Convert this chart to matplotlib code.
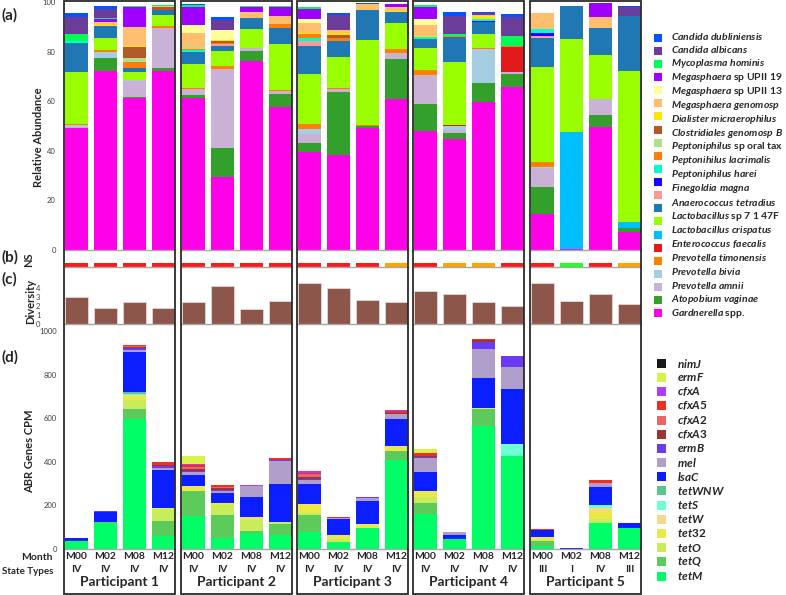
import matplotlib
matplotlib.use("Agg")
import matplotlib.pyplot as plt
from matplotlib.patches import Rectangle
import numpy as np

plt.rcParams["font.family"] = ["Lato", "DejaVu Sans"]
plt.rcParams["mathtext.fontset"] = "custom"
plt.rcParams["mathtext.it"] = "Lato:italic:bold"
plt.rcParams["mathtext.rm"] = "Lato:bold"

# ---- samples -------------------------------------------------------------
participants = ["Participant 1", "Participant 2", "Participant 3",
                "Participant 4", "Participant 5"]
months = ["M00", "M02", "M08", "M12"]
state_types = ["IV", "IV", "IV", "IV",
               "IV", "IV", "IV", "IV",
               "IV", "IV", "IV", "IV",
               "IV", "IV", "IV", "IV",
               "III", "I", "IV", "III"]

# Nugent score category per sample
ns_category = ["BV", "BV", "BV", "BV",
               "BV", "BV", "BV", "BV",
               "BV", "BV", "BV", "Intermediate",
               "BV", "Intermediate", "Intermediate", "BV",
               "BV", "Normal", "BV", "Intermediate"]
ns_colors = {"BV": "#ff1a1a", "Intermediate": "#ffa500", "Normal": "#22ff22"}

diversity = [3.0, 1.78, 2.48, 1.74, 2.48, 4.26, 1.63, 2.56, 4.56, 3.96,
             2.67, 2.41, 3.67, 3.3, 2.41, 2.0, 4.56, 2.56, 3.33, 2.26]

# ---- (a) relative abundance, bottom to top -------------------------------
gardnerella = [49.1, 72.3, 61.2, 72.3, 61.2, 29.6, 76.2, 57.8, 39.6, 38.3,
               49.0, 60.8, 48.0, 44.6, 59.5, 65.6, 14.5, 0.5, 49.5, 7.4]
atopobium = [0, 5.0, 0.4, 1.1, 1.3, 11.7, 4.2, 5.1, 3.4, 25.3,
             1.1, 16.1, 10.9, 2.7, 7.7, 5.4, 10.8, 0, 5.0, 1.3]
p_amnii = [0.5, 0, 6.6, 16.3, 2.3, 31.7, 1.2, 1.3, 3.6, 1.2,
           0, 2.4, 11.7, 1.0, 0, 0.9, 7.7, 0, 6.3, 0]
p_bivia = [1.0, 2.7, 0.3, 0, 0, 0, 0, 0, 2.0, 0,
           0, 0, 0, 1.5, 13.7, 0, 0.3, 0, 0, 0]
p_timonensis = [0.3, 0.5, 0, 0.7, 0.6, 1.2, 0, 0.5, 2.4, 0.4,
                0.5, 1.7, 2.0, 0, 0.4, 0, 2.2, 0, 0, 0]
e_faecalis = [0, 0, 0, 0, 0, 0, 0, 0, 0, 0,
              0, 0, 0, 0.7, 0, 10.1, 0, 0, 0, 0]
l_crispatus = [0, 0, 0, 0, 0, 0, 0, 0, 0, 0,
               0, 0, 0, 0, 0, 0, 0, 46.9, 0, 2.7]
l_sp7147f = [20.8, 5.0, 3.4, 4.4, 9.4, 6.0, 7.4, 18.5, 20.0, 12.8,
             34.0, 10.6, 9.0, 25.5, 5.8, 0, 38.2, 37.5, 17.9, 60.9]
a_tetradius = [11.9, 4.8, 1.3, 2.0, 5.1, 2.2, 4.4, 6.5, 11.4, 6.3,
               12.1, 4.2, 3.4, 9.8, 4.7, 0, 11.8, 13.4, 11.0, 22.2]
f_magna = [0, 0, 0, 0, 0, 0.6, 0, 0, 2.0, 0,
           0, 0, 0, 0, 0, 0, 0.6, 0, 0, 0]
p_harei = [0, 0, 0, 0, 0, 0, 0, 0, 0, 0,
           0, 0, 0, 0, 0.7, 0, 1.3, 0, 0, 0]
p_lacrimalis = [0.5, 0, 0, 0, 0.6, 0, 0, 0, 0.9, 0,
                0, 0, 0.7, 0, 0.7, 0, 1.6, 0, 0, 0]
p_oral_tax = [0, 0, 2.7, 0, 0.7, 0.6, 0, 1.3, 1.7, 1.3,
              0, 0, 0, 0.6, 0, 0.3, 0, 0, 0, 0]
clostridiales = [0, 0, 1.5, 0, 0.6, 0, 0, 0, 0, 0,
                 0, 0, 0, 0, 0, 0, 0, 0, 0, 0]
dialister = [0, 0, 4.3, 1.1, 0, 0.6, 0, 0, 0, 1.0,
             0, 0, 0, 0, 0, 0, 0, 0, 0, 0]
meg_genomosp = [0, 0.3, 0.4, 0, 0, 0.5, 0, 0, 0.7, 1.0,
                0, 0.7, 0.5, 0, 1.2, 0, 0, 0, 0, 0]
meg_upii13 = [0, 1.3, 7.7, 0.4, 5.8, 0, 2.7, 3.4, 4.0, 1.3,
              2.4, 1.6, 4.4, 0, 0.4, 0, 6.7, 0, 4.4, 0]
meg_upii19 = [0, 0, 0, 0, 3.0, 4.0, 0, 0, 1.3, 0,
              0, 0, 2.6, 0, 0, 0, 0, 0, 0, 0]
m_hominis = [0, 1.2, 8.1, 0, 7.4, 0, 1.7, 3.4, 4.3, 0,
             0, 1.1, 4.8, 0, 0, 0, 0, 0, 5.4, 0]
c_albicans = [2.8, 0.6, 0.4, 0.4, 0.9, 0, 0.5, 0.5, 0.7, 0,
              0, 0, 0.7, 0.6, 0, 4.0, 0, 0, 0, 0]
c_dubliniensis = [7.0, 3.6, 0, 0, 0, 4.2, 0, 0, 0, 5.8,
                  0, 0, 0, 7.5, 0.9, 7.5, 0, 0, 0, 3.4]
other_taxon = [1.6, 0.9, 0, 0, 0.3, 0.9, 0, 0, 0, 0.9,
               0.4, 0, 0, 1.3, 0.4, 1.3, 0, 0, 0, 0.5]

taxa = [gardnerella, atopobium, p_amnii, p_bivia, p_timonensis, e_faecalis,
        l_crispatus, l_sp7147f, a_tetradius, f_magna, p_harei, p_lacrimalis,
        p_oral_tax, clostridiales, dialister, meg_genomosp, meg_upii13,
        meg_upii19, m_hominis, c_albicans, c_dubliniensis, other_taxon]
taxa_colors = ["#ff00e8", "#33a02c", "#cab2d6", "#a6cee3", "#ff7f00",
               "#e31a1c", "#00bfff", "#99ff00", "#1f78b4", "#fb9a99",
               "#1a00ff", "#00ffcc", "#ff7f0e", "#b2df8a", "#b15928",
               "#ffe600", "#fdbf6f", "#ffff99", "#a000ff", "#00ff55",
               "#6a3d9a", "#0055ff"]
taxa_labels = [
    r"$\it{Candida\ dubliniensis}$",
    r"$\it{Candida\ albicans}$",
    r"$\it{Mycoplasma\ hominis}$",
    r"$\it{Megasphaera}$ sp UPII 19",
    r"$\it{Megasphaera}$ sp UPII 13",
    r"$\it{Megasphaera\ genomosp}$",
    r"$\it{Dialister\ micraerophilus}$",
    r"$\it{Clostridiales\ genomosp\ B}$",
    r"$\it{Peptoniphilus}$ sp oral tax",
    r"$\it{Peptonihilus\ lacrimalis}$",
    r"$\it{Peptoniphilus\ harei}$",
    r"$\it{Finegoldia\ magna}$",
    r"$\it{Anaerococcus\ tetradius}$",
    r"$\it{Lactobacillus}$ sp 7 1 47F",
    r"$\it{Lactobacillus\ crispatus}$",
    r"$\it{Enterococcus\ faecalis}$",
    r"$\it{Prevotella\ timonensis}$",
    r"$\it{Prevotella\ bivia}$",
    r"$\it{Prevotella\ amnii}$",
    r"$\it{Atopobium\ vaginae}$",
    r"$\it{Gardnerella}$ spp.",
]

# ---- (d) ABR genes CPM, bottom to top ------------------------------------
tetM = [35, 119, 595, 58, 151, 50, 73, 62, 79, 30,
        96, 410, 162, 44, 563, 428, 12, 0, 121, 98]
tetQ = [0, 5, 46, 69, 113, 107, 9, 51, 75, 0,
        0, 38, 50, 0, 81, 0, 23, 0, 0, 0]
tetO = [0, 0, 41, 55, 0, 46, 49, 11, 12, 14,
        0, 0, 26, 0, 0, 0, 7, 0, 15, 0]
tet32 = [0, 0, 18, 5, 25, 7, 11, 0, 39, 18,
         20, 23, 27, 0, 3, 0, 9, 0, 37, 0]
tetW = [0, 0, 5, 0, 0, 0, 4, 0, 0, 0,
        0, 0, 0, 0, 0, 0, 6, 0, 15, 0]
tetS = [0, 0, 8, 0, 0, 0, 0, 0, 0, 0,
        0, 0, 0, 0, 0, 52, 0, 0, 12, 0]
tetWNW = [0, 0, 7, 0, 0, 0, 0, 0, 0, 0,
          0, 0, 0, 0, 0, 0, 0, 0, 0, 0]
lsaC = [14, 47, 184, 174, 49, 47, 92, 173, 95, 77,
        103, 127, 88, 18, 139, 256, 28, 4, 84, 21]
mel = [0, 0, 10, 10, 15, 9, 51, 107, 15, 3,
       15, 23, 64, 15, 134, 98, 4, 0, 20, 0]
ermB = [3, 2, 8, 9, 7, 5, 0, 3, 8, 0,
        5, 0, 4, 3, 31, 54, 0, 0, 0, 0]
cfxA3 = [0, 0, 5, 7, 7, 7, 0, 0, 8, 0,
         0, 4, 8, 0, 7, 0, 0, 0, 0, 0]
cfxA2 = [0, 0, 4, 0, 10, 8, 0, 0, 12, 0,
         0, 0, 0, 0, 0, 0, 0, 0, 0, 0]
cfxA5 = [0, 0, 4, 10, 9, 6, 0, 10, 8, 3,
         0, 8, 10, 0, 5, 0, 5, 0, 14, 0]
cfxA = [0, 0, 3, 4, 3, 0, 5, 0, 9, 0,
        0, 3, 0, 0, 0, 0, 0, 0, 0, 0]
ermF = [0, 0, 0, 0, 40, 0, 0, 0, 0, 0,
        0, 0, 20, 0, 0, 0, 0, 0, 0, 0]
nimJ = [0] * 20

genes = [tetM, tetQ, tetO, tet32, tetW, tetS, tetWNW, lsaC, mel, ermB,
         cfxA3, cfxA2, cfxA5, cfxA, ermF, nimJ]
gene_names = ["tetM", "tetQ", "tetO", "tet32", "tetW", "tetS", "tetWNW",
              "lsaC", "mel", "ermB", "cfxA3", "cfxA2", "cfxA5", "cfxA",
              "ermF", "nimJ"]
gene_colors = ["#00ff66", "#5ccb5c", "#c8ec5a", "#ebe84a", "#f5d88a",
               "#6effd2", "#5cc491", "#0a1eff", "#b09fcb", "#6a3af5",
               "#9e3434", "#ec6464", "#ee3024", "#b03ef5", "#d9f24a",
               "#1a1a1a"]

# ---- layout (pixels) ------------------------------------------------------
W, H = 786, 595
fig = plt.figure(figsize=(W / 100, H / 100), dpi=100)


def px_axes(left, top, width, height):
    return fig.add_axes([left / W, 1 - (top + height) / H, width / W, height / H])


def fig_xy(x, y):
    return x / W, 1 - y / H


col_left = [64, 181, 297, 413, 530]
col_w = 111
x = np.arange(4)
abundance = np.array(taxa, dtype=float)
cpm = np.array(genes, dtype=float)
tick_kw = dict(length=0, labelsize=5.5, labelcolor="#404040")


def style(ax, first, ylim, yticks, pad):
    ax.set_xlim(-0.43, 3.4)
    ax.set_ylim(*ylim)
    ax.patch.set_alpha(0)
    for s in ("top", "right", "left"):
        ax.spines[s].set_visible(False)
    ax.spines["bottom"].set_color("#a6a6a6")
    ax.spines["bottom"].set_linewidth(1.0)
    ax.set_xticks([])
    if first:
        ax.set_yticks(yticks)
        ax.tick_params(axis="y", pad=pad, **tick_kw)
    else:
        ax.set_yticks([])


for j in range(5):
    idx = slice(4 * j, 4 * j + 4)
    first = j == 0

    # (a)
    ax = px_axes(col_left[j], 2, col_w, 248)
    bottom = np.zeros(4)
    for vals, c in zip(abundance[:, idx], taxa_colors):
        ax.bar(x, vals, 0.8, bottom=bottom, color=c, linewidth=0)
        bottom += vals
    style(ax, first, (0, 100), [0, 20, 40, 60, 80, 100], 6)

    # (b)
    ax = px_axes(col_left[j], 251, col_w, 16)
    ax.bar(x, 0.2, 0.8, bottom=0.02,
           color=[ns_colors[k] for k in ns_category[idx]], linewidth=0)
    style(ax, False, (0, 1), [], 0)

    # (c)
    ax = px_axes(col_left[j], 267, col_w, 57)
    ax.bar(x, diversity[idx], 0.8, color="#8c564b",
           edgecolor="#f2dede", linewidth=0.5)
    style(ax, first, (0, 6.33), [0, 1, 2, 3, 4], 17)

    # (d)
    ax = px_axes(col_left[j], 325, col_w, 224)
    bottom = np.zeros(4)
    for vals, c in zip(cpm[:, idx], gene_colors):
        ax.bar(x, vals, 0.8, bottom=bottom, color=c, linewidth=0)
        bottom += vals
    style(ax, first, (0, 1028), [0, 200, 400, 600, 800, 1000], 5)
    ax.set_xticks(x, [f"{m}\n{s}" for m, s in zip(months, state_types[idx])],
                  fontsize=7.5, fontweight="bold", color="#262626",
                  linespacing=1.55)
    ax.tick_params(axis="x", length=0, pad=2.5)
    ax.set_xlabel(participants[j], fontsize=10, fontweight="bold",
                  color="#262626", labelpad=1.5)

    # participant box
    bx, by = fig_xy(col_left[j], 594)
    fig.add_artist(Rectangle((bx, by), col_w / W, 593 / H,
                             transform=fig.transFigure, fill=False,
                             edgecolor="#2b2b2b", linewidth=1.3))

# ---- left labels ----------------------------------------------------------
lab = dict(fontweight="bold", color="#262626")
for t, yy in (("(a)", 15), ("(b)", 257), ("(c)", 279), ("(d)", 357)):
    fig.text(*fig_xy(2, yy), t, fontsize=11, va="center", **lab)
fig.text(*fig_xy(38, 137), "Relative Abundance", fontsize=8, rotation=90,
         ha="center", va="center", **lab)
fig.text(*fig_xy(29, 260), "NS", fontsize=8, rotation=90,
         ha="center", va="center", **lab)
fig.text(*fig_xy(31, 301), "Diversity", fontsize=8, rotation=90,
         ha="center", va="center", **lab)
fig.text(*fig_xy(29.5, 451), "ABR Genes CPM", fontsize=8, rotation=90,
         ha="center", va="center", **lab)
fig.text(*fig_xy(53, 557.7), "Month", fontsize=7.5, ha="right", va="center",
         **lab)
fig.text(*fig_xy(53, 571.5), "State Types", fontsize=7, ha="right",
         va="center", **lab)

# ---- legends --------------------------------------------------------------
sq_y = np.linspace(37.7, 313.3, len(taxa_colors))
for c, yy in zip(taxa_colors[::-1], sq_y):
    sx, sy = fig_xy(654, yy + 4)
    fig.add_artist(Rectangle((sx, sy), 8 / W, 8 / H, transform=fig.transFigure,
                             facecolor=c, edgecolor="none"))
lab_y = np.linspace(36, 313.3, len(taxa_labels))
for t, yy in zip(taxa_labels, lab_y):
    fig.text(*fig_xy(671, yy), t, fontsize=7.5, va="center", **lab)

g_y = np.linspace(363.3, 576, len(gene_names))
for name, c, yy in zip(gene_names[::-1], gene_colors[::-1], g_y):
    sx, sy = fig_xy(657, yy + 4.5)
    fig.add_artist(Rectangle((sx, sy), 9 / W, 9 / H, transform=fig.transFigure,
                             facecolor=c, edgecolor="none"))
    fig.text(*fig_xy(677, yy), rf"$\it{{{name}}}$", fontsize=8.5,
             va="center", **lab)

fig.savefig("out.png", dpi=100)
